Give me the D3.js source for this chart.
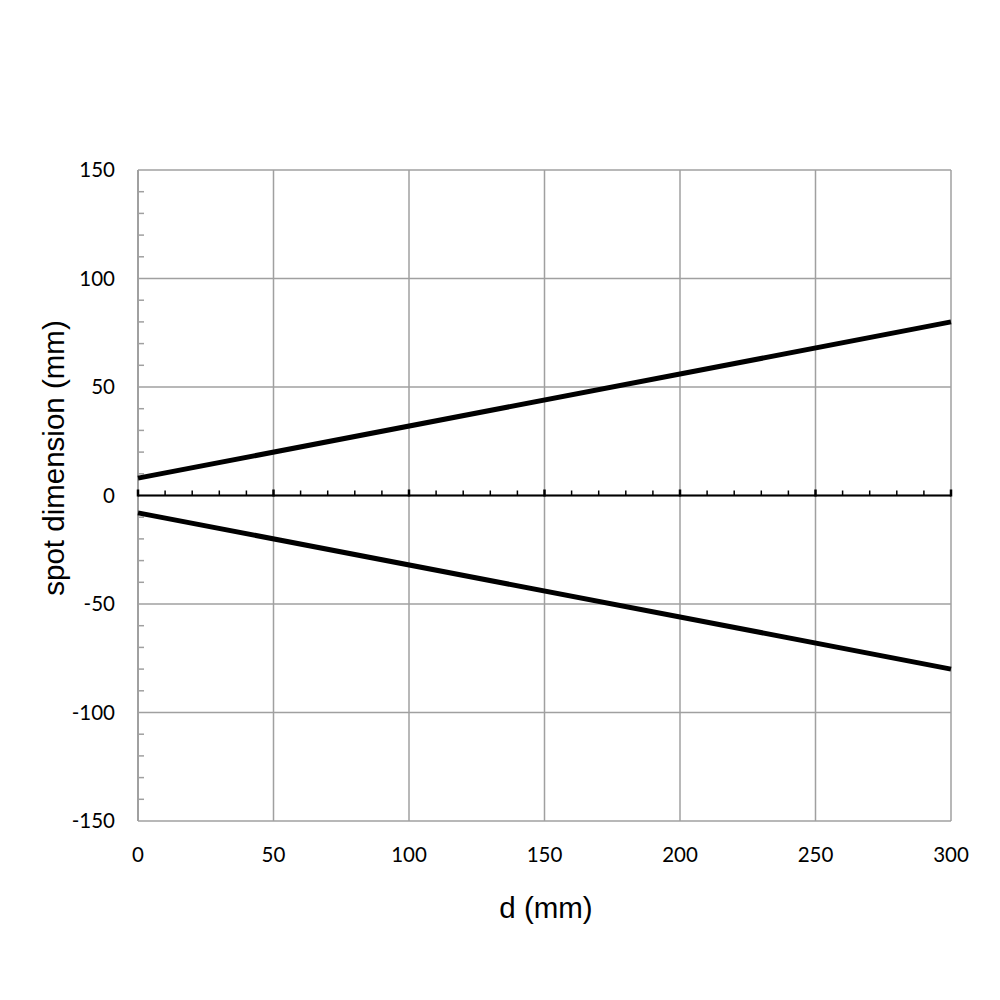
<!DOCTYPE html>
<html><head><meta charset="utf-8">
<script src="https://cdn.jsdelivr.net/npm/d3@7"></script>
<style>body{margin:0;background:#fff}svg{display:block}</style>
</head><body>
<svg id="c" width="1000" height="1000"></svg>
<script>
const dValues = [0, 300];
const upperValues = [8, 80];
const lowerValues = [-8, -80];
const xTicks = [0, 50, 100, 150, 200, 250, 300];
const yTicks = [150, 100, 50, 0, -50, -100, -150];
const xTitle = "d (mm)";
const yTitle = "spot dimension (mm)";

const svg = d3.select("#c");
const L = 138, R = 951, T = 170, B = 821;
const x = d3.scaleLinear().domain([0, 300]).range([L, R]);
const y = d3.scaleLinear().domain([-150, 150]).range([B, T]);
const grid = "#a0a0a0";
const tickFont = "Lato, 'Open Sans', sans-serif";

svg.append("defs").append("clipPath").attr("id", "cl")
  .append("rect").attr("x", 0).attr("y", 0).attr("width", 970).attr("height", 1000);

// gridlines
svg.append("g").selectAll("line").data(xTicks).join("line")
  .attr("x1", d => x(d)).attr("x2", d => x(d)).attr("y1", T).attr("y2", B)
  .attr("stroke", grid).attr("stroke-width", 1.5);
svg.append("g").selectAll("line").data(yTicks).join("line")
  .attr("x1", L).attr("x2", R).attr("y1", d => y(d)).attr("y2", d => y(d))
  .attr("stroke", grid).attr("stroke-width", 1.5);

// y axis line + minor ticks
svg.append("line").attr("x1", L).attr("x2", L).attr("y1", T).attr("y2", B)
  .attr("stroke", grid).attr("stroke-width", 2);
const yMinor = d3.range(-150, 151, 10).filter(v => v % 50 !== 0);
svg.append("g").selectAll("line").data(yMinor).join("line")
  .attr("x1", L).attr("x2", L + 6).attr("y1", d => y(d)).attr("y2", d => y(d))
  .attr("stroke", grid).attr("stroke-width", 1.5);

// zero axis with ticks
svg.append("line").attr("x1", L).attr("x2", R).attr("y1", y(0)).attr("y2", y(0))
  .attr("stroke", "#000").attr("stroke-width", 2);
const xMinor = d3.range(0, 301, 10).filter(v => v % 50 !== 0);
svg.append("g").selectAll("line").data(xMinor).join("line")
  .attr("x1", d => x(d)).attr("x2", d => x(d)).attr("y1", y(0)).attr("y2", y(0) - 5)
  .attr("stroke", "#000").attr("stroke-width", 1.5);
svg.append("g").selectAll("line").data(xTicks).join("line")
  .attr("x1", d => x(d)).attr("x2", d => x(d)).attr("y1", y(0) + 1).attr("y2", y(0) - 6)
  .attr("stroke", "#000").attr("stroke-width", 2.5);

// data lines
const line = d3.line().x(d => x(d[0])).y(d => y(d[1]));
[upperValues, lowerValues].forEach(vals => {
  svg.append("path").datum(dValues.map((d, i) => [d, vals[i]]))
    .attr("d", line).attr("fill", "none").attr("stroke", "#000").attr("stroke-width", 5);
});

// tick labels
svg.append("g").selectAll("text").data(yTicks).join("text")
  .attr("x", 115).attr("y", d => y(d) + 7).attr("text-anchor", "end")
  .attr("font-family", tickFont).attr("font-size", 20.5).attr("fill", "#000").text(d => d);
svg.append("g").attr("clip-path", "url(#cl)").selectAll("text").data(xTicks).join("text")
  .attr("x", d => x(d)).attr("y", 862).attr("text-anchor", "middle")
  .attr("font-family", tickFont).attr("font-size", 20.5).attr("fill", "#000").text(d => d);

// titles
svg.append("text").attr("x", 546).attr("y", 918).attr("text-anchor", "middle")
  .attr("font-family", "'Liberation Sans', Arial, sans-serif").attr("font-size", 29.5).text(xTitle);
svg.append("text").attr("transform", "translate(64,458) rotate(-90)").attr("text-anchor", "middle")
  .attr("font-family", "'Liberation Sans', Arial, sans-serif").attr("font-size", 29.5).text(yTitle);
</script>
</body></html>
